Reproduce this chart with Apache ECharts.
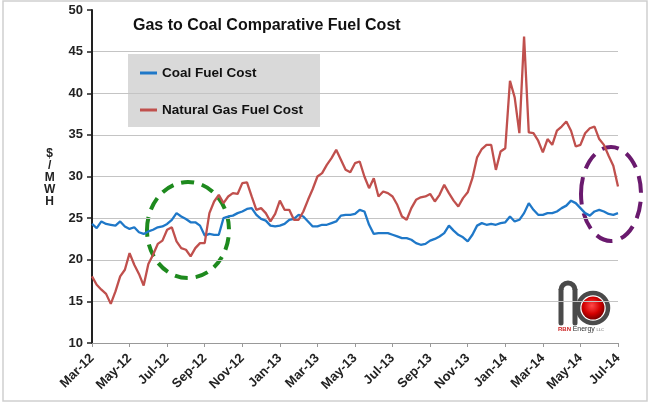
<!DOCTYPE html>
<html>
<head>
<meta charset="utf-8">
<script src="https://cdn.jsdelivr.net/npm/echarts@6/dist/echarts.min.js"></script>
<style>
html,body{margin:0;padding:0;background:#fff;}
#chart{width:650px;height:406px;}
</style>
</head>
<body>
<div id="chart"></div>
<script>
// Months on the axis (weekly samples, 4 per month), Mar-12 .. Jul-14
var months = ['Mar-12','Apr-12','May-12','Jun-12','Jul-12','Aug-12','Sep-12','Oct-12','Nov-12','Dec-12',
  'Jan-13','Feb-13','Mar-13','Apr-13','May-13','Jun-13','Jul-13','Aug-13','Sep-13','Oct-13','Nov-13','Dec-13',
  'Jan-14','Feb-14','Mar-14','Apr-14','May-14','Jun-14','Jul-14'];
var tickLabels = ['Mar-12','May-12','Jul-12','Sep-12','Nov-12','Jan-13','Mar-13','May-13','Jul-13','Sep-13','Nov-13','Jan-14','Mar-14','May-14','Jul-14'];

// Coal Fuel Cost ($/MWH), weekly
var coal = [24.3,23.8,24.6,24.3,24.2,24.1,24.6,24.0,23.7,23.9,23.3,23.1,23.4,23.6,23.9,24.0,
  24.3,24.8,25.6,25.2,24.9,24.5,24.5,24.1,22.9,23.1,23.0,23.0,25.0,25.2,25.3,25.6,
  25.8,26.1,26.2,25.4,24.9,24.7,24.1,24.0,24.1,24.3,24.8,24.9,25.4,25.2,24.6,24.0,
  24.0,24.2,24.2,24.4,24.6,25.3,25.4,25.4,25.5,26.0,25.8,24.2,23.1,23.2,23.2,23.2,
  23.0,22.8,22.6,22.6,22.4,22.0,21.8,21.9,22.3,22.5,22.8,23.2,24.1,23.5,23.0,22.7,
  22.2,23.0,24.1,24.4,24.2,24.3,24.2,24.4,24.5,25.2,24.6,24.8,25.6,26.8,26.0,25.4,
  25.4,25.6,25.6,25.8,26.2,26.5,27.1,26.8,26.2,25.6,25.3,25.8,26.0,25.8,25.5,25.4,25.6];

// Natural Gas Fuel Cost ($/MWH), weekly
var gas = [18.0,17.0,16.4,15.9,14.7,16.2,18.0,18.8,20.8,19.4,18.3,16.9,19.5,20.6,21.9,22.3,
  23.6,23.9,22.2,21.4,21.2,20.4,21.4,22.0,22.0,25.6,27.0,27.8,26.8,27.6,28.0,27.9,
  29.2,29.3,27.6,26.0,26.2,25.6,24.6,25.5,27.1,26.0,26.0,24.8,24.8,25.8,27.2,28.5,
  30.0,30.4,31.4,32.2,33.2,32.0,30.8,30.5,31.6,31.8,30.0,28.6,29.8,27.6,28.2,28.0,
  27.6,26.6,25.2,24.8,26.2,27.2,27.5,27.6,27.9,27.0,27.8,29.0,28.0,27.1,26.4,27.4,
  28.1,29.8,32.3,33.3,33.8,33.8,30.8,33.0,33.4,41.5,39.5,35.2,46.8,35.3,35.2,34.3,
  32.9,34.5,33.8,35.5,36.0,36.6,35.5,33.6,33.8,35.2,35.8,36.0,34.5,33.8,32.5,31.3,28.8];

var categories = [];
for (var m = 0; m < months.length - 1; m++) {
  for (var w = 0; w < 4; w++) categories.push(w === 0 ? months[m] : months[m] + ' w' + (w + 1));
}
categories.push(months[months.length - 1]);

var FONT = 'Liberation Sans, Arial, sans-serif';
var chart = echarts.init(document.getElementById('chart'), null, {renderer: 'canvas'});
chart.setOption({
  animation: false,
  backgroundColor: '#fff',
  title: {
    text: 'Gas to Coal Comparative Fuel Cost',
    left: 133, top: 18, padding: 0,
    textStyle: {fontFamily: FONT, fontSize: 16, fontWeight: 'bold', color: '#111'}
  },
  legend: {
    data: ['Coal Fuel Cost', 'Natural Gas Fuel Cost'],
    orient: 'vertical', left: 140, top: 65, padding: 0,
    icon: 'rect', itemWidth: 17, itemHeight: 3, itemGap: 21,
    textStyle: {fontFamily: FONT, fontSize: 13.5, fontWeight: 'bold', color: '#111', lineHeight: 16}
  },
  grid: {left: 92, right: 32, top: 10, bottom: 63},
  xAxis: {
    type: 'category', data: categories, boundaryGap: false,
    axisLine: {lineStyle: {color: '#999', width: 1}},
    axisTick: {show: true, interval: 7, length: 4, lineStyle: {color: '#999'}},
    axisLabel: {
      interval: 7, rotate: 45, margin: 13,
      fontFamily: FONT, fontSize: 13, fontWeight: 'bold', color: '#222',
      formatter: function (v) { return v.split(' ')[0]; }
    },
    splitLine: {show: false}
  },
  yAxis: {
    type: 'value', min: 10, max: 50, interval: 5,
    axisLine: {show: true, lineStyle: {color: '#222', width: 2}},
    axisTick: {show: true, length: 5, lineStyle: {color: '#222', width: 1.5}},
    axisLabel: {fontFamily: FONT, fontSize: 13, fontWeight: 'bold', color: '#222', margin: 9},
    splitLine: {show: true, showMaxLine: false, lineStyle: {color: '#c4c4c4', width: 1.2}}
  },
  series: [
    {name: 'Coal Fuel Cost', type: 'line', data: coal, symbol: 'none', color: '#1f78c8',
     lineStyle: {width: 2.3, color: '#1f78c8'}},
    {name: 'Natural Gas Fuel Cost', type: 'line', data: gas, symbol: 'none', color: '#c0504d',
     lineStyle: {width: 2.3, color: '#c0504d'}}
  ],
  graphic: [
    {type: 'rect', z: -10, shape: {x: 3, y: 1, width: 644, height: 400},
     style: {fill: 'none', stroke: '#cfcfcf', lineWidth: 1.5}},
    {type: 'rect', z: -5, shape: {x: 128, y: 54, width: 192, height: 73},
     style: {fill: '#d9d9d9'}},
    {type: 'text', left: 44, top: 148,
     style: {text: '$\n/\nM\nW\nH', font: 'bold 12px ' + FONT, fill: '#222', lineHeight: 12, textAlign: 'center'}},
    {type: 'ellipse', shape: {cx: 188, cy: 230, rx: 41, ry: 48},
     style: {fill: 'none', stroke: '#1e8a1e', lineWidth: 4, lineDash: [13, 8]}},
    {type: 'ellipse', shape: {cx: 611, cy: 194, rx: 30, ry: 47},
     style: {fill: 'none', stroke: '#6a1a6e', lineWidth: 4, lineDash: [17, 9]}},
    // logo
    {type: 'line', shape: {x1: 561, y1: 323, x2: 561, y2: 290},
     style: {stroke: '#4a4a4a', lineWidth: 5, lineCap: 'round'}},
    {type: 'arc', shape: {cx: 568, cy: 290, r: 7, startAngle: Math.PI, endAngle: 2 * Math.PI},
     style: {stroke: '#4a4a4a', lineWidth: 5, fill: 'none'}},
    {type: 'line', shape: {x1: 575, y1: 290, x2: 575, y2: 323},
     style: {stroke: '#4a4a4a', lineWidth: 5, lineCap: 'round'}},
    {type: 'circle', shape: {cx: 593, cy: 308, r: 15},
     style: {fill: 'none', stroke: '#4a4a4a', lineWidth: 4.5}},
    {type: 'circle', shape: {cx: 593, cy: 308, r: 11.5},
     style: {fill: {type: 'radial', x: 0.45, y: 0.4, r: 0.6,
       colorStops: [{offset: 0, color: '#ff4a4a'}, {offset: 0.6, color: '#d40000'}, {offset: 1, color: '#7a0000'}]}}},
    {type: 'text', left: 558, top: 326,
     style: {text: '{r|RBN} {g|Energy} {s|LLC}', font: '6px ' + FONT,
       rich: {r: {fill: '#cc2222', fontSize: 6, fontWeight: 'bold'}, g: {fill: '#333', fontSize: 7}, s: {fill: '#666', fontSize: 4}}}}
  ]
});
</script>
</body>
</html>
